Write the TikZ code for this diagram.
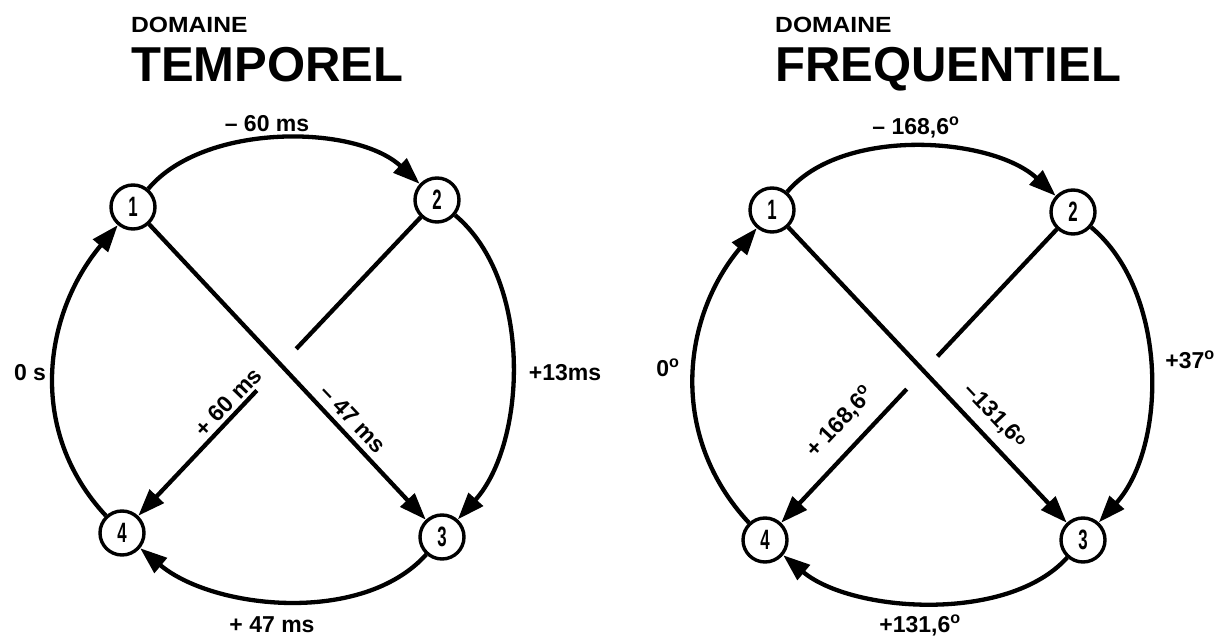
\documentclass[tikz,border=0pt]{standalone}
\usepackage{fontspec}
\usepackage{graphicx}
\setmainfont{Liberation Sans}
\usetikzlibrary{arrows.meta,calc}
\newcommand\dg{\textsuperscript{o}}
\begin{document}
\begin{tikzpicture}[x=1pt,y=1pt,
  num/.style={circle,draw,line width=3.4pt,minimum size=44pt,inner sep=0pt,
    font=\fontsize{28}{28}\selectfont\bfseries},
  conn/.style={line width=4.3pt},
  tip/.style={-{Triangle[length=27pt,width=19pt]}},
  lbl/.style={font=\fontsize{23}{23}\selectfont\bfseries,inner sep=0pt},
  blbl/.style={lbl,anchor=base},
  small/.style={font=\fontsize{22}{22}\selectfont\bfseries,inner sep=0pt,anchor=base west},
  big/.style={font=\fontsize{49}{49}\selectfont\bfseries,inner sep=0pt,anchor=base west}]
\useasboundingbox (0,0) rectangle (1226,637);
% ---------- left: TEMPOREL ----------
\node[small] (t1) at (131,604) {\scalebox{1.12}[1]{DOMAINE}};
\node[big] (t2) at (131,555) {TEMPOREL};
\node[num] (n1) at (133,430) {\scalebox{0.6}[1]{1}};
\node[num] (n2) at (437,437) {\scalebox{0.6}[1]{2}};
\node[num] (n3) at (442,100) {\scalebox{0.6}[1]{3}};
\node[num] (n4) at (122,104) {\scalebox{0.6}[1]{4}};
\draw[conn,tip] (n1) to[out=50,in=137,looseness=0.82] (n2);
\draw[conn,tip] (n2) to[out=-40,in=48,looseness=0.86] (n3);
\draw[conn,tip] (n3) to[out=-132,in=-40,looseness=0.85] (n4);
\draw[conn,tip] (n4) to[out=133,in=-130,looseness=1.02] (n1);
\draw[conn,tip] (n1) -- (n3);
\coordinate (g1) at ($(n2)!0.447!(n4)$);
\coordinate (g2) at ($(n2)!0.572!(n4)$);
\draw[conn] (n2) -- (g1);
\draw[conn,tip] (g2) -- (n4);
\node[blbl] (l12) at (267,505) {– 60 ms};
\node[lbl] (l41) at (30,264) {0 s};
\node[lbl] (l23) at (565,264) {+13ms};
\node[blbl] (l34) at (272,4) {+ 47 ms};
\node[lbl,rotate=46] (l24) at (228,235) {+ 60 ms};
\node[lbl,rotate=-46.4] (l13) at (353,218) {– 47 ms};
% ---------- right: FREQUENTIEL ----------
\node[small] (f1) at (775,604) {\scalebox{1.12}[1]{DOMAINE}};
\node[big] (f2) at (775,555) {FREQUENTIEL};
\node[num] (m1) at (772,427) {\scalebox{0.6}[1]{1}};
\node[num] (m2) at (1073,425) {\scalebox{0.6}[1]{2}};
\node[num] (m3) at (1083,97) {\scalebox{0.6}[1]{3}};
\node[num] (m4) at (765,97) {\scalebox{0.6}[1]{4}};
\draw[conn,tip] (m1) to[out=50,in=137,looseness=0.82] (m2);
\draw[conn,tip] (m2) to[out=-40,in=48,looseness=0.88] (m3);
\draw[conn,tip] (m3) to[out=-132,in=-40,looseness=0.8] (m4);
\draw[conn,tip] (m4) to[out=133,in=-130,looseness=1.02] (m1);
\draw[conn,tip] (m1) -- (m3);
\coordinate (h1) at ($(m2)!0.44!(m4)$);
\coordinate (h2) at ($(m2)!0.54!(m4)$);
\draw[conn] (m2) -- (h1);
\draw[conn,tip] (h2) -- (m4);
\node[blbl] (k12) at (916,502) {– 168,6\dg};
\node[lbl] (k41) at (668,269) {0\dg};
\node[lbl] (k23) at (1190,277) {+37\dg};
\node[blbl] (k34) at (920,4) {+131,6\dg};
\node[lbl,rotate=46.8] (k24) at (840,215) {+ 168,6\dg};
\node[lbl,rotate=-46.6] (k13) at (995,221) {–131,6\raisebox{0.15em}{\fontsize{16}{16}\selectfont o}};
\end{tikzpicture}
\end{document}
